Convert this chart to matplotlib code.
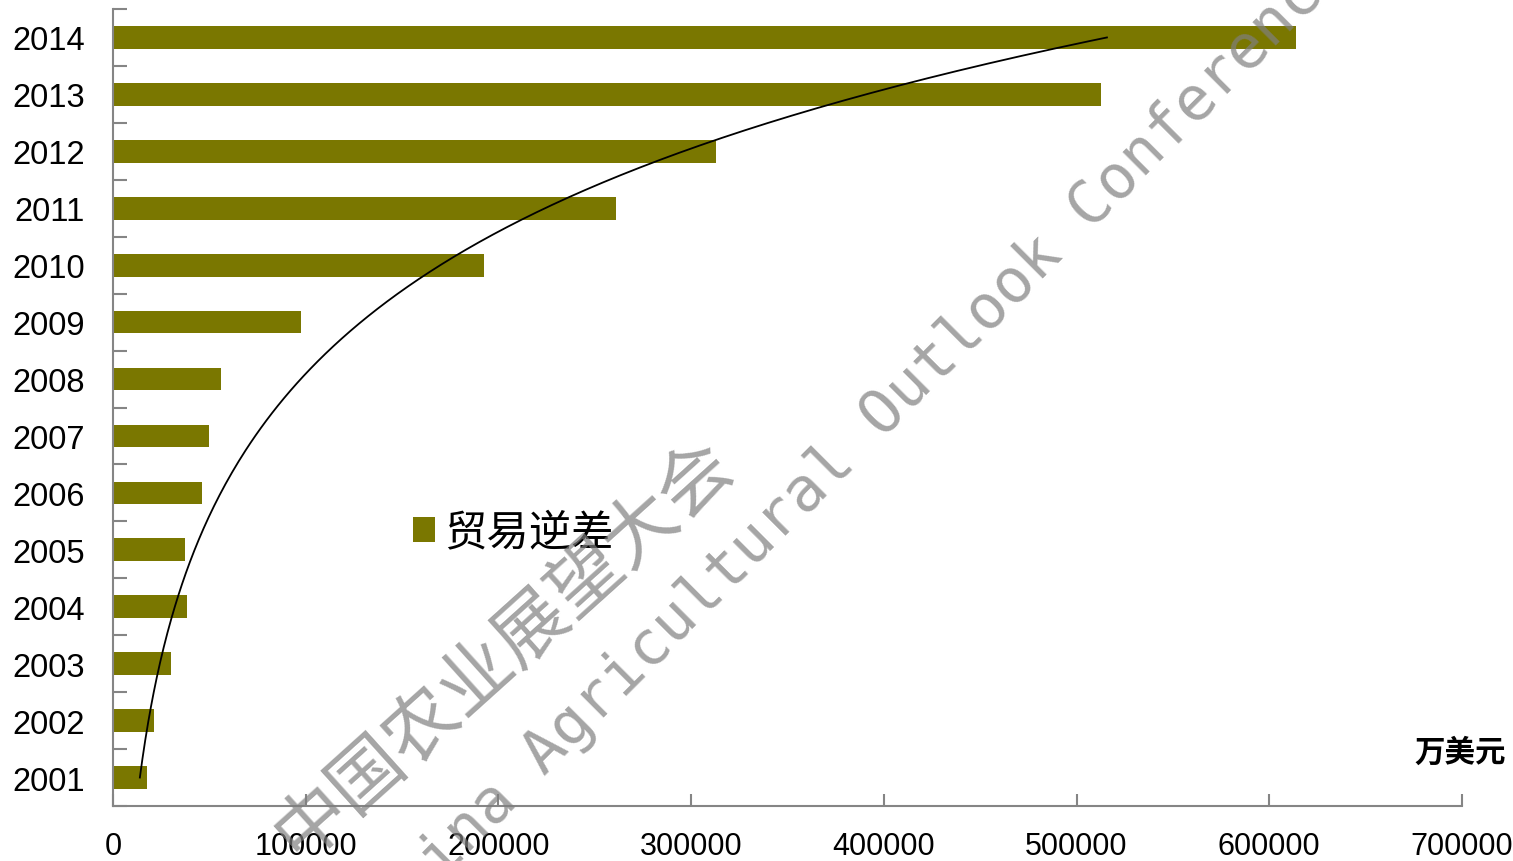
import numpy as np
import matplotlib
matplotlib.use('Agg')
import matplotlib.pyplot as plt

plt.rcParams['font.family'] = ['Liberation Sans', 'Noto Sans CJK SC', 'DejaVu Sans']

# data (万美元)
years = ['2001', '2002', '2003', '2004', '2005', '2006', '2007',
         '2008', '2009', '2010', '2011', '2012', '2013', '2014']
deficit = [17500, 21100, 29900, 38600, 37500, 46200, 50000,
           55900, 97400, 192400, 261000, 312900, 512500, 613900]
xticks = [0, 100000, 200000, 300000, 400000, 500000, 600000, 700000]
series_name = '贸易逆差'
unit_label = '万美元'
wm_cn = '中国农业展望大会'
wm_en = 'China Agricultural Outlook Conference'

bar_color = '#7a7700'
axis_color = '#858585'

fig = plt.figure(figsize=(15.13, 8.62), dpi=100)
ax = fig.add_axes([113 / 1513, 1 - 807 / 862, 1349 / 1513, 797 / 862])

pos = np.arange(len(years))
ax.barh(pos, deficit, height=0.4, color=bar_color, label=series_name)

# exponential trendline (Excel style, fit on category index)
t = pos + 1
b, a = np.polyfit(t, np.log(deficit), 1)
tt = np.linspace(1, len(years), 200)
ax.plot(np.exp(a + b * tt), tt - 1, color='black', lw=1.3)

ax.set_xlim(0, 700000)
ax.set_ylim(-0.5, len(years) - 0.5)
ax.set_xticks(xticks)
ax.set_xticklabels([str(v) for v in xticks])
ax.set_yticks(pos)
ax.set_yticklabels(years)
ax.set_yticks(np.arange(-0.5, len(years), 1), minor=True)

for s in ['top', 'right']:
    ax.spines[s].set_visible(False)
for s in ['left', 'bottom']:
    ax.spines[s].set_color(axis_color)
    ax.spines[s].set_linewidth(1.5)

ax.tick_params(axis='y', which='major', length=0, labelsize=23.5, pad=20)
ax.tick_params(axis='y', which='minor', direction='in', length=10,
               width=1.5, color=axis_color)
ax.tick_params(axis='x', direction='in', length=9, width=1.5,
               color=axis_color, labelsize=22, pad=18)

leg = ax.legend(loc='center left', bbox_to_anchor=(0.194, 0.343),
                frameon=False, prop={'family': ['Noto Sans CJK SC'], 'size': 30.5},
                handlelength=0.52, handleheight=0.52, handletextpad=0.22)

fig.text(1460 / 1513, 1 - 753 / 862, unit_label, ha='center', va='center',
         fontsize=22, fontweight='bold', family=['Noto Sans CJK SC'])

# watermark
fig.text(505 / 1513, 1 - 650 / 862, wm_cn, rotation=42, ha='center',
         va='center', fontsize=53, color='#7f7f7f', alpha=0.7,
         family=['Noto Sans CJK SC'], rotation_mode='anchor')
fig.text(858 / 1513, 1 - 440 / 862, wm_en, rotation=45, ha='center',
         va='center', fontsize=44, color='#7f7f7f', alpha=0.7,
         family=['DejaVu Sans Mono'], rotation_mode='anchor')

fig.savefig('out.png', dpi=100)
